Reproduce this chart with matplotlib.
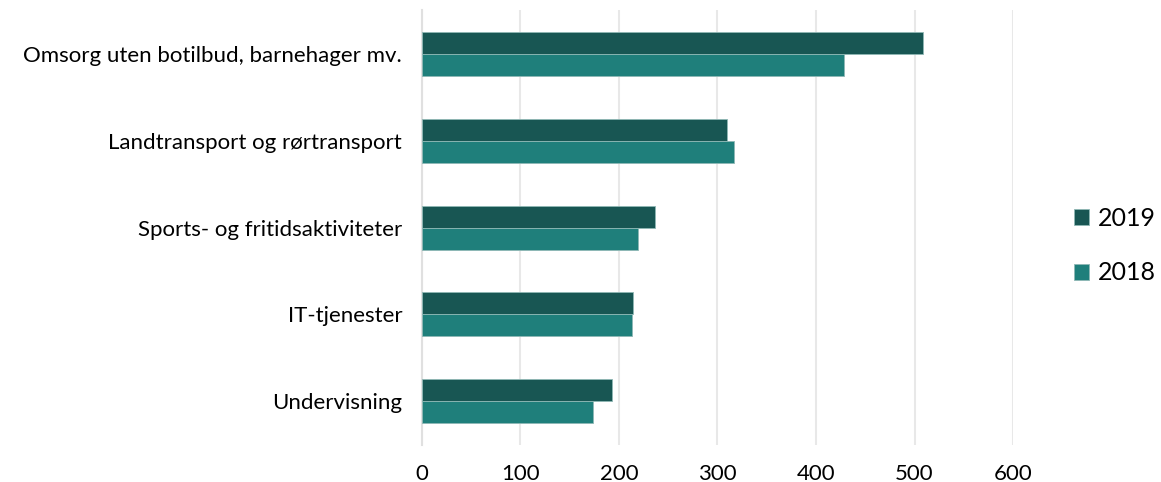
import numpy as np
import matplotlib.pyplot as plt

plt.rcParams['font.family'] = ['Lato', 'DejaVu Sans']

categories = ['Omsorg uten botilbud, barnehager mv.', 'Landtransport og rørtransport',
              'Sports- og fritidsaktiviteter', 'IT-tjenester', 'Undervisning']
v2019 = [509, 310, 237, 214, 193]
v2018 = [428, 317, 219, 213, 174]

c2019 = '#185653'
c2018 = '#1f7f7b'

fig = plt.figure(figsize=(11.61, 4.82), dpi=100)
ax = fig.add_axes([0.3632, 0.077, 0.5094, 0.902])

y = np.arange(len(categories))
h = 0.253
ax.barh(y - h / 2, v2019, height=h, color=c2019, edgecolor='#8fb8b5', linewidth=0.6, label='2019', zorder=3)
ax.barh(y + h / 2, v2018, height=h, color=c2018, edgecolor='#8fb8b5', linewidth=0.6, label='2018', zorder=3)

ax.set_ylim(len(categories) - 0.5, -0.5)
ax.set_xlim(0, 600)
ax.set_xticks(np.arange(0, 601, 100))
ax.set_yticks(y)
ax.set_yticklabels(categories)
ax.grid(axis='x', color='#e8e8e8', linewidth=1.5, zorder=0)
for s in ['top', 'right', 'bottom']:
    ax.spines[s].set_visible(False)
ax.spines['left'].set_color('#e0e0e0')
ax.spines['left'].set_linewidth(1.5)
ax.tick_params(axis='both', length=0, labelsize=16, colors='#000000')
ax.tick_params(axis='x', pad=14)
ax.tick_params(axis='y', pad=14)

fig.legend(loc='center left', bbox_to_anchor=(0.925, 0.49), frameon=False, fontsize=18,
           borderpad=0, borderaxespad=0, handlelength=0.6, handleheight=0.6,
           handletextpad=0.35, labelspacing=1.25)

fig.savefig('out.png', dpi=100)
